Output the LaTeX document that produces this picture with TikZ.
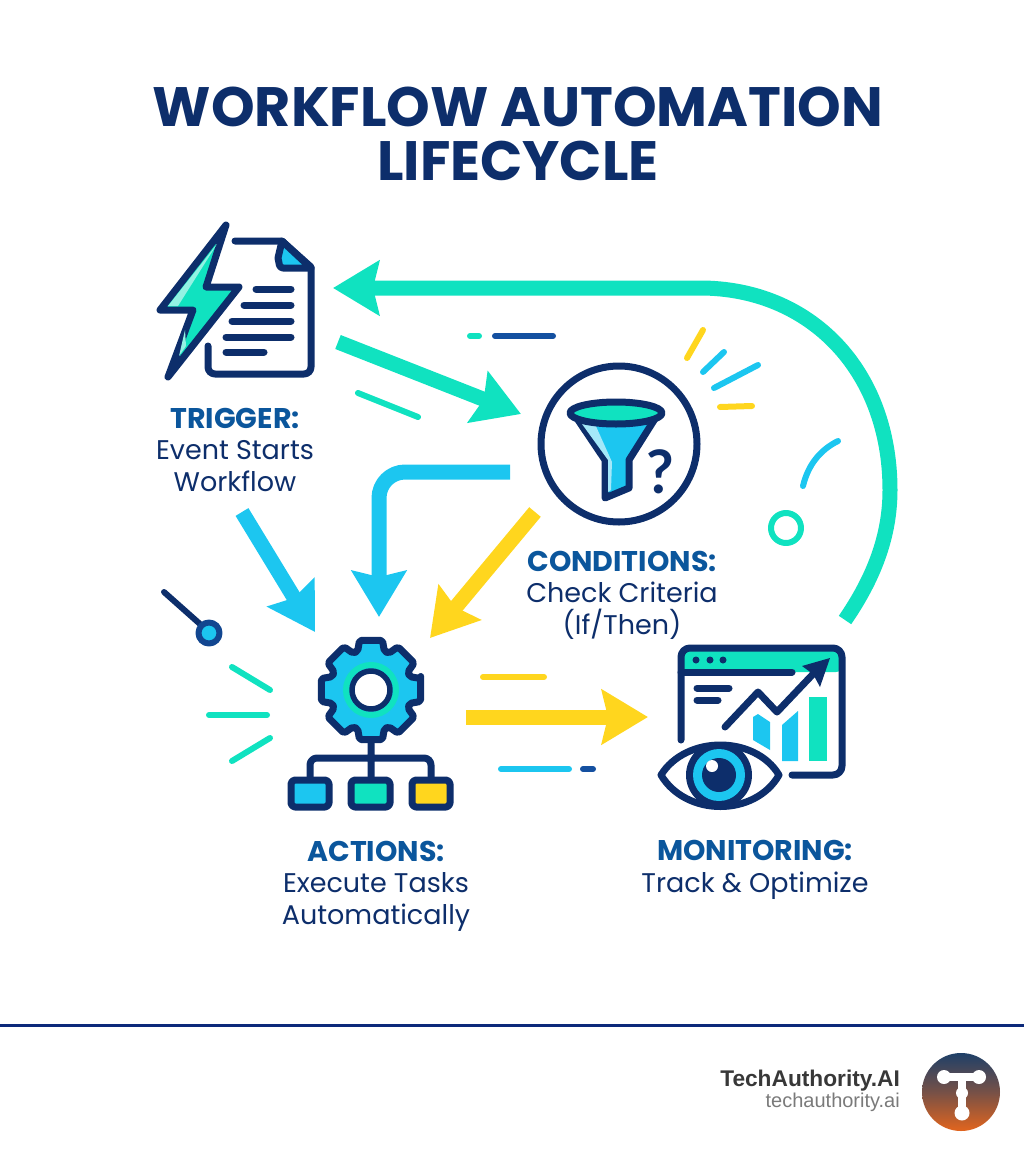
\documentclass[tikz,border=0pt]{standalone}
\usepackage{fontspec}
\setmainfont{Poppins}
\newfontfamily\footfont{Liberation Sans}
\newfontfamily\markfont{Lato}
\usetikzlibrary{positioning}
\usetikzlibrary{arrows.meta}

\definecolor{navy}{RGB}{13,46,107}
\definecolor{headblue}{RGB}{11,86,156}
\definecolor{teal}{RGB}{16,226,192}
\definecolor{sky}{RGB}{28,198,240}
\definecolor{sun}{RGB}{255,214,30}
\definecolor{midblue}{RGB}{20,80,160}
\definecolor{logotop}{RGB}{31,64,104}
\definecolor{logobot}{RGB}{226,101,30}

\newcommand{\stephead}[1]{{\color{headblue}\fontsize{28.5}{31.5}\bfseries\selectfont #1}}

\begin{document}
\begin{tikzpicture}[x=1pt,y=-1pt,line join=round,
	flow/.style={line width=15pt,-{Stealth[length=46pt,width=54pt,inset=6pt]}},
	outline/.style={draw=navy,line width=7pt,line cap=round},
	tick/.style={line width=6pt,line cap=round},
	icon node/.style={inner sep=0pt,minimum width=#1},
	label text/.style={align=center,text=navy,font=\fontsize{27}{31.5}\selectfont,inner sep=0pt}]
	
	\useasboundingbox (0,0) rectangle (1024,1154);
	
	\node[text=navy,align=center,inner sep=0pt,font=\fontsize{55.5}{54}\bfseries\selectfont] (title) at (518,134) {WORKFLOW AUTOMATION\\LIFECYCLE};
	
	% the four steps
	\node[icon node=160pt,minimum height=155pt] (trigger) at (235,302) {};
	\node[icon node=162pt,minimum height=162pt,circle] (conditions) at (619,444) {};
	\node[icon node=166pt,minimum height=175pt] (actions) at (371,725) {};
	\node[icon node=188pt,minimum height=165pt] (monitoring) at (752,728) {};
	
	\node[label text] (triggertext) [below=28pt of trigger] {\stephead{TRIGGER:}\\Event Starts\\Workflow};
	\node[label text] (conditionstext) at (622,595) {\stephead{CONDITIONS:}\\Check Criteria\\(If/Then)};
	\node[label text] (actionstext) at (376,886) {\stephead{ACTIONS:}\\Execute Tasks\\Automatically};
	\node[label text] (monitoringtext) at (755,870) {\stephead{MONITORING:}\\Track \& Optimize};
	
	% arrow ends
	\coordinate (t out) at (338,342);
	\coordinate (c in) at (521,414);
	\coordinate (c left) at (510,472);
	\coordinate (c down) at (535,512);
	\coordinate (a top) at (379,617);
	\coordinate (a right) at (430,638);
	\coordinate (t down) at (242,512);
	\coordinate (a left) at (315,632);
	\coordinate (a out) at (466,717);
	\coordinate (m in) at (648,717);
	\coordinate (m up) at (845,620);
	\coordinate (t in) at (333,288);
	
	\draw[flow,teal] (t out) -- (c in);
	\draw[flow,sky,rounded corners=26pt] (c left) -- (379,472) -- (a top);
	\draw[flow,sun] (c down) -- (a right);
	\draw[flow,sky] (t down) -- (a left);
	\draw[flow,sun] (a out) -- (m in);
	\draw[flow,teal] (m up) .. controls (878,572) and (890,530) .. (890,490) .. controls (890,370) and (810,288) .. (700,288) -- (t in);
	
	% small strokes
	\draw[tick,teal] (470,336) -- (479,336);
	\draw[tick,midblue] (495,336) -- (553,336);
	\draw[tick,teal] (358,393) -- (418,417);
	\draw[tick,sun] (703,330) -- (687,358);
	\draw[tick,sky] (724,352) -- (703,372);
	\draw[tick,sky] (758,365) -- (714,388);
	\draw[tick,sun] (752,406) -- (720,407);
	\draw[tick,sky] (803,486) .. controls (808,465) and (820,450) .. (838,441);
	\draw[line width=6pt,teal] (786,528) circle (15);
	\draw[tick,navy] (164,592) -- (200,624);
	\draw[line width=6pt,midblue!70!navy,fill=sky] (209,633) circle (10.5);
	\draw[tick,teal] (232,667) -- (270,690);
	\draw[tick,teal] (209,715) -- (267,715);
	\draw[tick,teal] (232,761) -- (270,738);
	\draw[tick,sun] (483,677) -- (544,677);
	\draw[tick,sky] (501,769) -- (569,769);
	\draw[tick,midblue] (583,769) -- (593,769);
	
	% trigger icon
	\draw[outline] (235,241) -- (282,241) -- (311,267) [rounded corners=7pt] -- (311,374) -- (208,374) [sharp corners] -- (208,346);
	\draw[outline,fill=sky] (282,241) -- (278,258) [rounded corners=3pt] -- (280,268) [sharp corners] -- (311,268) -- cycle;
	\draw[outline] (256,289) -- (291,289) (244,305) -- (291,305) (232,321) -- (291,321) (226,337) -- (291,337) (226,352) -- (264,352);
	\draw[outline,fill=teal] (226,225) -- (160,310) -- (193,310) -- (168,377) -- (239,287) -- (206,287) -- cycle;
	\fill[white!55!teal] (217,244) -- (168,306) -- (178,306) -- cycle;
	\fill[white!55!teal] (185,330) -- (179,356) -- (186,346) -- cycle;
	
	% funnel icon
	\draw[outline] (conditions) circle (78);
	\draw[outline,fill=sky] (574,414) -- (605,460) -- (605,498) -- (629,488) -- (629,460) -- (658,414) -- cycle;
	\fill[white!60!sky] (582,424) -- (595,424) -- (612,462) -- (611,490) -- (608,492) -- (608,460) -- cycle;
	\draw[outline,fill=teal] (616,413) ellipse (46 and 11);
	\node[text=navy,inner sep=0pt,font=\markfont\fontsize{60}{60}\bfseries\selectfont] (mark) at (660,472) {?};
	
	% gear with tree
	\draw[outline] (371,743) -- (371,777) (310,777) [rounded corners=7pt] -- (310,758) -- (431,758) [sharp corners] -- (431,777);
	\begin{scope}[shift={(371,690)}]
		\draw[outline,fill=sky,rounded corners=2pt] (-13:51)
		\foreach \a in {0,45,...,315} {
			-- (\a-13:51) -- (\a+13:51) -- (\a+19:41) -- (\a+26:41)
		} -- cycle;
		\draw[line width=6pt,teal] (0,0) circle (25);
		\draw[line width=5.5pt,navy,fill=white] (0,0) circle (19);
	\end{scope}
	\draw[outline,fill=sky,rounded corners=4pt] (291,780) rectangle (329,807);
	\draw[outline,fill=teal,rounded corners=4pt] (351,780) rectangle (390,807);
	\draw[outline,fill=sun,rounded corners=4pt] (412,780) rectangle (450,807);
	
	% monitor with eye
	\fill[teal,rounded corners=6pt] (681,648) rectangle (842,672);
	\draw[outline] (681,740) [rounded corners=9pt] -- (681,648) -- (842,648) -- (842,775) [sharp corners] -- (792,775);
	\draw[outline] (681,672) -- (792,672);
	\fill[navy] (696,660) circle (3.5) (710,660) circle (3.5) (723,660) circle (3.5);
	\draw[outline] (697,688) -- (729,688) (697,700) -- (718,700);
	\fill[sky] (753,717) -- (758,714) -- (770,722) -- (770,750) -- (753,740) -- cycle;
	\fill[sky] (782,725) -- (798,711) -- (798,761) -- (782,761) -- cycle;
	\fill[teal] (809,697) -- (827,697) -- (827,761) -- (809,761) -- cycle;
	\draw[outline] (725,727) -- (758,692) -- (777,712) -- (815,672);
	\fill[navy] (830,658) -- (802,666) -- (813,674) -- (820,687) -- cycle;
	\draw[outline,fill=white] (661,775) .. controls (686,735) and (755,735) .. (779,775) .. controls (755,817) and (686,817) .. cycle;
	\fill[navy] (719,775) circle (33);
	\fill[sky] (719,775) circle (26);
	\fill[navy] (719,775) circle (17);
	\fill[white] (712,766) circle (6);
	
	% footer
	\draw[line width=3pt,navy!90!blue] (0,1025) -- (1024,1025);
	\node[anchor=base east,inner sep=0pt,text=black!78,font=\footfont\fontsize{22.7}{24}\bfseries\selectfont] (brand) at (900,1086) {TechAuthority.AI};
	\node[anchor=base east,inner sep=0pt,text=black!52,font=\footfont\fontsize{20}{20}\selectfont] (site) at (900,1107) {techauthority.ai};
	\shade[top color=logotop,bottom color=logobot,middle color=logotop!55!logobot] (961,1092) circle (39);
	\draw[white,line width=8pt,line cap=round] (945,1077) -- (978,1077) (962,1077) -- (962,1112);
	\fill[white] (944,1077) circle (7) (979,1077) circle (7) (962,1093) circle (6) (962,1113) circle (7.5);
\end{tikzpicture}
\end{document}
